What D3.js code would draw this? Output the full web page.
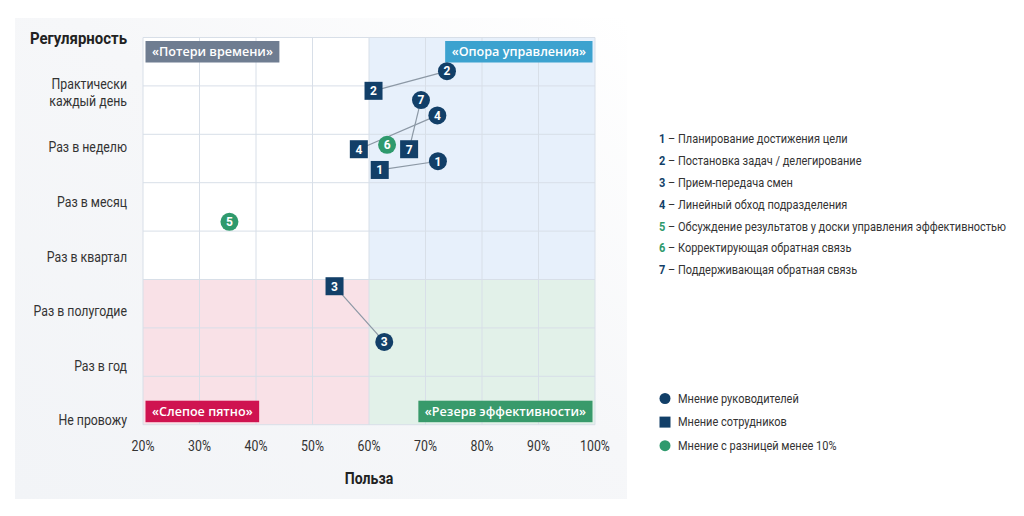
<!DOCTYPE html>
<html>
<head lang="ru">
    <meta charset="utf-8">
    <title>Регулярность и польза управленческих практик</title>
    <script src="https://cdn.jsdelivr.net/npm/d3@7"></script>
    <style type="text/css">
        html, body {
            margin: 0;
            padding: 0;
            background: #fff;
        }
        text {
            font-family: "Roboto", "Liberation Sans", sans-serif;
        }
        .tag {
            font-family: "Open Sans", "Noto Sans", sans-serif;
            font-weight: 600;
        }
    </style>
</head>
<body>
<svg id="chart" width="1024" height="516"></svg>

<script type="text/javascript">
    // ---- данные ----
    var pointIds = ["1", "2", "3", "4", "5", "6", "7"];
    var practiceNames = [
        "Планирование достижения цели",
        "Постановка задач / делегирование",
        "Прием-передача смен",
        "Линейный обход подразделения",
        "Обсуждение результатов у доски управления эффективностью",
        "Корректирующая обратная связь",
        "Поддерживающая обратная связь"
    ];
    // польза, %  и  регулярность (0 = не провожу ... 6 = практически каждый день)
    var managerBenefit = [72.2, 73.8, 62.7, 72.1, 35.3, 63.2, 69.2];
    var managerFreq = [4.75, 6.40, 1.44, 5.59, 3.64, 5.05, 5.87];
    var staffBenefit = [61.9, 60.8, 53.9, 58.2, null, null, 67.1];
    var staffFreq = [4.59, 6.04, 2.46, 4.97, null, null, 4.97];
    var smallDiff = [false, false, false, false, true, true, false];

    var freqLabels = ["Не провожу", "Раз в год", "Раз в полугодие", "Раз в квартал",
        "Раз в месяц", "Раз в неделю", "Практически|каждый день"];
    var xTicks = [20, 30, 40, 50, 60, 70, 80, 90, 100];
    var legendLabels = ["Мнение руководителей", "Мнение сотрудников", "Мнение с разницей менее 10%"];
    var quadrantTags = ["«Потери времени»", "«Опора управления»", "«Слепое пятно»", "«Резерв эффективности»"];

    var navy = "#123f68", green = "#2f9a6d", gridColor = "#d8dfe8";
    var narrow = 0.88; // шрифт в оригинале узкий

    function place(px, py) {
        return "translate(" + px + "," + py + ") scale(" + narrow + ",1)";
    }

    var svg = d3.select("#chart");

    // подложка
    var defs = svg.append("defs");
    var grad = defs.append("linearGradient").attr("id", "bg")
        .attr("x1", "100%").attr("y1", "0%").attr("x2", "0%").attr("y2", "100%");
    grad.append("stop").attr("offset", "0%").attr("stop-color", "#ffffff");
    grad.append("stop").attr("offset", "45%").attr("stop-color", "#f6f7f9");
    grad.append("stop").attr("offset", "100%").attr("stop-color", "#f2f4f7");
    svg.append("rect").attr("x", 15).attr("y", 18).attr("width", 612).attr("height", 481)
        .attr("fill", "url(#bg)");

    var plot = {left: 143, right: 595, top: 37.5, bottom: 424.7};
    var rows = 8, splitRow = 5;

    var x = d3.scaleLinear().domain([20, 100]).range([plot.left, plot.right]);
    var y = d3.scaleLinear().domain([0, 6]).range([420.5, 93]);
    var rowY = d3.scaleLinear().domain([0, rows]).range([plot.top, plot.bottom]);

    // квадранты
    var splitX = x(60), splitY = rowY(splitRow);
    var quads = [
        {x0: plot.left, x1: splitX, y0: plot.top, y1: splitY, fill: "#ffffff"},
        {x0: splitX, x1: plot.right, y0: plot.top, y1: splitY, fill: "#e7f0fb"},
        {x0: plot.left, x1: splitX, y0: splitY, y1: plot.bottom, fill: "#f9e1e7"},
        {x0: splitX, x1: plot.right, y0: splitY, y1: plot.bottom, fill: "#e2f1e9"}
    ];
    svg.selectAll("rect.quad").data(quads).enter().append("rect")
        .attr("class", "quad")
        .attr("x", function (d) { return d.x0; })
        .attr("y", function (d) { return d.y0; })
        .attr("width", function (d) { return d.x1 - d.x0; })
        .attr("height", function (d) { return d.y1 - d.y0; })
        .attr("fill", function (d) { return d.fill; });

    // сетка
    svg.selectAll("line.vgrid").data(xTicks).enter().append("line")
        .attr("x1", function (d) { return x(d); }).attr("x2", function (d) { return x(d); })
        .attr("y1", plot.top).attr("y2", plot.bottom)
        .attr("stroke", gridColor).attr("stroke-width", 1);
    svg.selectAll("line.hgrid").data(d3.range(rows + 1)).enter().append("line")
        .attr("x1", plot.left).attr("x2", plot.right)
        .attr("y1", function (d) { return rowY(d); }).attr("y2", function (d) { return rowY(d); })
        .attr("stroke", gridColor).attr("stroke-width", 1);

    // ярлыки квадрантов
    var tagColors = ["#6f7d91", "#3ca2cf", "#cf1350", "#389a6b"];
    var tagPos = [
        {x: plot.left + 2.5, y: plot.top + 3.5, anchor: "start"},
        {x: plot.right - 2.5, y: plot.top + 3.5, anchor: "end"},
        {x: plot.left + 2.5, y: plot.bottom - 24, anchor: "start"},
        {x: plot.right - 2.5, y: plot.bottom - 24, anchor: "end"}
    ];
    quadrantTags.forEach(function (t, i) {
        var g = svg.append("g");
        var txt = g.append("text").attr("class", "tag")
            .attr("font-size", 12.6).attr("fill", "#fff")
            .attr("y", tagPos[i].y + 15.3)
            .text(t);
        var w = txt.node().getComputedTextLength() + 13;
        var bx = tagPos[i].anchor === "start" ? tagPos[i].x : tagPos[i].x - w;
        g.insert("rect", "text")
            .attr("x", bx).attr("y", tagPos[i].y)
            .attr("width", w).attr("height", 21.5)
            .attr("fill", tagColors[i]);
        txt.attr("x", bx + 6.5);
    });

    // линии между мнениями
    var pairs = pointIds.map(function (id, i) {
        return {id: id, mx: managerBenefit[i], my: managerFreq[i], sx: staffBenefit[i], sy: staffFreq[i], same: smallDiff[i]};
    });
    svg.selectAll("line.link").data(pairs.filter(function (d) { return !d.same; })).enter().append("line")
        .attr("x1", function (d) { return x(d.mx); }).attr("y1", function (d) { return y(d.my); })
        .attr("x2", function (d) { return x(d.sx); }).attr("y2", function (d) { return y(d.sy); })
        .attr("stroke", "#8c98a5").attr("stroke-width", 1.2);

    // мнение сотрудников - квадраты
    var sq = svg.selectAll("g.staff").data(pairs.filter(function (d) { return !d.same; })).enter().append("g")
        .attr("transform", function (d) { return "translate(" + x(d.sx) + "," + y(d.sy) + ")"; });
    sq.append("rect").attr("x", -9).attr("y", -9).attr("width", 18).attr("height", 18).attr("fill", navy);
    sq.append("text").attr("text-anchor", "middle").attr("dy", "0.36em")
        .attr("fill", "#fff").attr("font-size", 12).attr("font-weight", "bold")
        .text(function (d) { return d.id; });

    // мнение руководителей - круги
    var ci = svg.selectAll("g.manager").data(pairs).enter().append("g")
        .attr("transform", function (d) { return "translate(" + x(d.mx) + "," + y(d.my) + ")"; });
    ci.append("circle").attr("r", 9)
        .attr("fill", function (d) { return d.same ? green : navy; });
    ci.append("text").attr("text-anchor", "middle").attr("dy", "0.36em")
        .attr("fill", "#fff").attr("font-size", 12).attr("font-weight", "bold")
        .text(function (d) { return d.id; });

    // ось X
    svg.selectAll("text.xtick").data(xTicks).enter().append("text")
        .attr("transform", function (d) { return place(x(d), 451); })
        .attr("text-anchor", "middle").attr("font-size", 14).attr("fill", "#333")
        .text(function (d) { return d + "%"; });
    svg.append("text").attr("transform", place(x(60), 484))
        .attr("text-anchor", "middle").attr("font-size", 16).attr("font-weight", "bold").attr("fill", "#222")
        .text("Польза");

    // ось Y
    svg.append("text").attr("transform", place(127, 44))
        .attr("text-anchor", "end").attr("font-size", 17).attr("font-weight", "bold").attr("fill", "#222")
        .text("Регулярность");
    var yl = svg.selectAll("text.ytick").data(freqLabels).enter().append("text")
        .attr("text-anchor", "end").attr("font-size", 14).attr("fill", "#333")
        .attr("transform", function (d, i) { return place(127, y(i)); });
    yl.each(function (d) {
        var lines = d.split("|");
        var t = d3.select(this);
        lines.forEach(function (l, k) {
            t.append("tspan").attr("x", 0)
                .attr("y", (k - (lines.length - 1) / 2) * 17)
                .attr("dy", "0.35em")
                .text(l);
        });
    });

    // список практик
    var list = svg.selectAll("text.item").data(practiceNames).enter().append("text")
        .attr("transform", function (d, i) { return place(659, 139 + i * 21.8); })
        .attr("dy", "0.35em").attr("font-size", 12.5).attr("fill", "#333");
    list.append("tspan").attr("font-weight", "bold")
        .attr("fill", function (d, i) { return smallDiff[i] ? green : navy; })
        .text(function (d, i) { return pointIds[i]; });
    list.append("tspan").text(function (d) { return " – " + d; });

    // легенда
    var leg = svg.selectAll("g.leg").data(legendLabels).enter().append("g")
        .attr("transform", function (d, i) { return "translate(665," + (398.5 + i * 23.6) + ")"; });
    leg.each(function (d, i) {
        var g = d3.select(this);
        if (i === 1) {
            g.append("rect").attr("x", -5.5).attr("y", -5.5).attr("width", 11).attr("height", 11).attr("fill", navy);
        } else {
            g.append("circle").attr("r", 5.5).attr("fill", i === 2 ? green : navy);
        }
    });
    leg.append("text").attr("transform", place(13, 0)).attr("dy", "0.35em")
        .attr("font-size", 12.5).attr("fill", "#333")
        .text(function (d) { return d; });
</script>
</body>
</html>
